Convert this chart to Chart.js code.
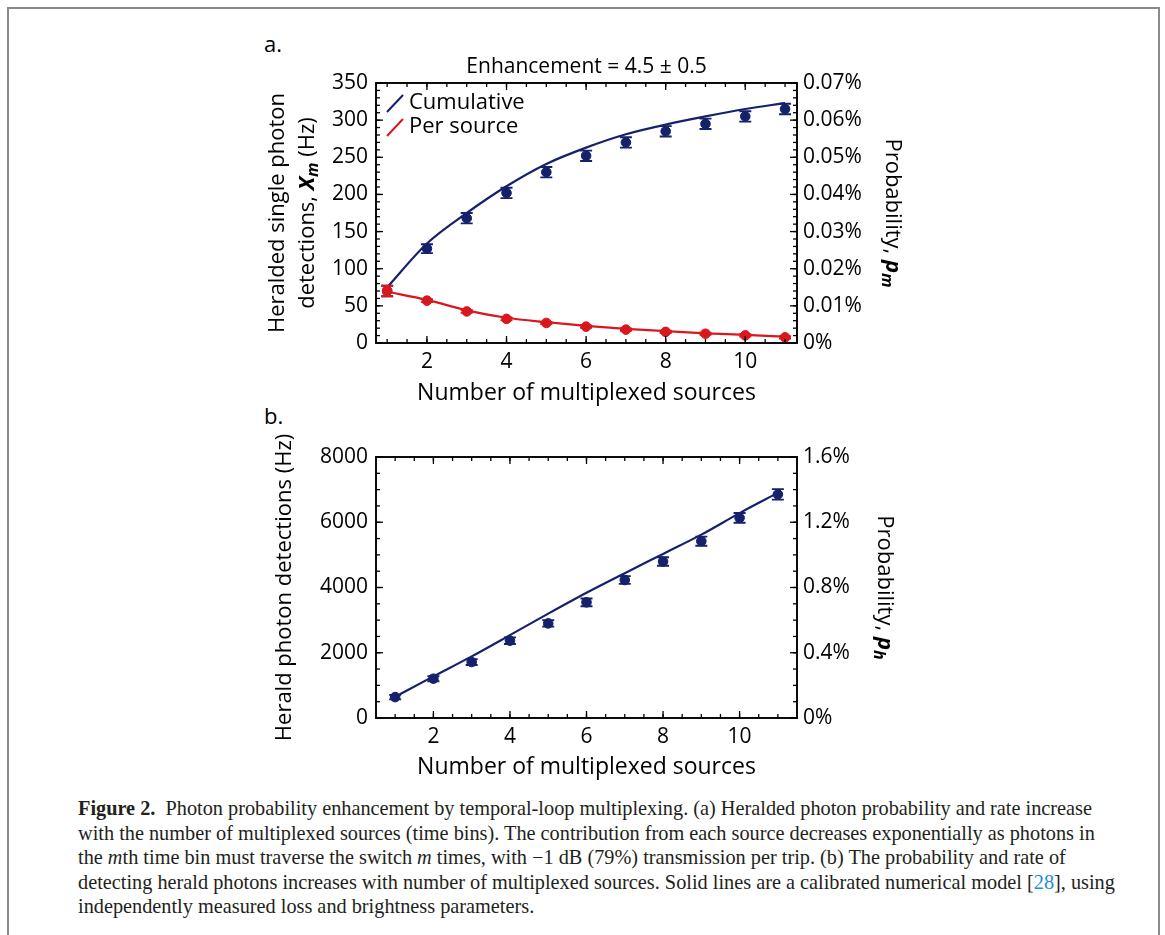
<!DOCTYPE html>
<html>
<head>
<meta charset="utf-8">
<script src="https://cdn.jsdelivr.net/npm/chart.js@4.4.0/dist/chart.umd.min.js"></script>
<style>
  body { margin: 0; background: #fff; width: 1165px; height: 935px; overflow: hidden; position: relative; }
  .frame { position: absolute; left: 7px; top: 7px; width: 1149px; height: 960px; border: 2px solid #8a8a8a; border-bottom: none; }
  canvas { position: absolute; }
  .tag { position: absolute; font: 22px 'Open Sans', sans-serif; color: #000; line-height: 26px; }
  .caption { position: absolute; left: 78px; top: 796px; font: 20.3px 'Liberation Serif', serif; line-height: 24.5px; color: #231f20; white-space: nowrap; }
  .caption a { color: #1e8fd6; text-decoration: none; }
</style>
</head>
<body>
<div class="frame"></div>
<div class="tag" style="left:264px;top:30px">a.</div>
<div class="tag" style="left:264px;top:402px">b.</div>
<canvas id="chartA" width="680" height="380" style="left:250px;top:40px"></canvas>
<canvas id="chartB" width="680" height="370" style="left:250px;top:420px"></canvas>
<div class="caption">
  <div><b>Figure 2.</b>&nbsp; Photon probability enhancement by temporal-loop multiplexing. (a) Heralded photon probability and rate increase</div>
  <div>with the number of multiplexed sources (time bins). The contribution from each source decreases exponentially as photons in</div>
  <div>the <i>m</i>th time bin must traverse the switch <i>m</i> times, with &minus;1 dB (79%) transmission per trip. (b) The probability and rate of</div>
  <div>detecting herald photons increases with number of multiplexed sources. Solid lines are a calibrated numerical model [<a>28</a>], using</div>
  <div>independently measured loss and brightness parameters.</div>
</div>
<script>
// number of multiplexed sources m
const sources = [1, 2, 3, 4, 5, 6, 7, 8, 9, 10, 11];
const xTickLabels = [2, 4, 6, 8, 10];

// panel a: heralded single photon detections (Hz)
const cumulativeData = [70, 127, 168, 202, 230, 252, 270, 285, 295, 305, 315];
const cumulativeErr = [7, 6, 7, 7, 7, 7, 7, 7, 7, 7, 7];
const cumulativeModel = [75, 134, 175, 211, 241, 263, 281, 294, 305, 315, 323];
const perSourceData = [70, 57, 42.5, 32.5, 27, 22, 18, 15, 12.5, 10.3, 7.6];
const perSourceErr = [7, 2, 2, 2, 1.5, 1.5, 1.5, 1.5, 1.5, 1.5, 1.5];
const perSourceModel = [69, 58, 44, 34, 28, 23, 19, 16, 13, 11, 8.5];
const rateTicksA = [0, 50, 100, 150, 200, 250, 300, 350];
const probTicksA = [0, 0.01, 0.02, 0.03, 0.04, 0.05, 0.06, 0.07];

// panel b: herald photon detections (Hz)
const heraldData = [640, 1205, 1716, 2370, 2900, 3545, 4230, 4795, 5420, 6135, 6855];
const heraldErr = [70, 80, 90, 100, 100, 120, 120, 130, 140, 150, 160];
const heraldModel = [650, 1275, 1888, 2540, 3200, 3840, 4440, 5030, 5620, 6280, 6900];
const rateTicksB = [0, 2000, 4000, 6000, 8000];
const probTicksB = [0, 0.4, 0.8, 1.2, 1.6];

const NAVY = '#15216b';
const RED = '#d8181e';
const INK = '#000';
const FONT = "'Open Sans', sans-serif";

const pts = (xs, ys) => xs.map((x, i) => ({ x: x, y: ys[i] }));
const range = (a, b, step) => { const out = []; for (let v = a; v <= b + 1e-9; v += step) out.push(+v.toFixed(4)); return out; };

// vertical error bars, drawn just before the points of their dataset
const errorBars = {
  id: 'errorBars',
  beforeDatasetDraw(chart, args) {
    const ds = chart.data.datasets[args.index];
    if (!ds.errors) return;
    const { ctx } = chart;
    const ys = chart.scales[ds.yAxisID || 'y'];
    ctx.save();
    ctx.strokeStyle = ds.borderColor;
    ctx.lineWidth = 1.9;
    args.meta.data.forEach((pt, i) => {
      const v = ds.data[i].y, e = ds.errors[i];
      const top = ys.getPixelForValue(v + e), bot = ys.getPixelForValue(v - e);
      ctx.beginPath();
      ctx.moveTo(pt.x, top); ctx.lineTo(pt.x, bot);
      ctx.moveTo(pt.x - 6, top); ctx.lineTo(pt.x + 6, top);
      ctx.moveTo(pt.x - 6, bot); ctx.lineTo(pt.x + 6, bot);
      ctx.stroke();
    });
    ctx.restore();
  }
};

// frame with inward ticks on all four sides
const innerTicks = {
  id: 'innerTicks',
  afterDraw(chart, args, opts) {
    const { ctx, chartArea: a, scales } = chart;
    ctx.save();
    ctx.strokeStyle = INK;
    ctx.lineWidth = 1.3;
    const mark = (scale, list, len, side) => list.forEach(v => {
      const p = scale.getPixelForValue(v);
      ctx.beginPath();
      if (side === 'x') {
        ctx.moveTo(p, a.bottom); ctx.lineTo(p, a.bottom - len);
        ctx.moveTo(p, a.top); ctx.lineTo(p, a.top + len);
      } else if (side === 'left') {
        ctx.moveTo(a.left, p); ctx.lineTo(a.left + len, p);
      } else {
        ctx.moveTo(a.right, p); ctx.lineTo(a.right - len, p);
      }
      ctx.stroke();
    });
    mark(scales.x, opts.xMinor, 4, 'x');
    mark(scales.x, opts.xMajor, 7, 'x');
    mark(scales.y, opts.yMinor, 4, 'left');
    mark(scales.y, opts.yMajor, 7, 'left');
    mark(scales.y1, opts.pMinor, 4, 'right');
    mark(scales.y1, opts.pMajor, 7, 'right');
    ctx.lineWidth = 1.9;
    ctx.strokeRect(a.left, a.top, a.right - a.left, a.bottom - a.top);
    ctx.restore();
  }
};

// text made of runs with their own fonts (for italic subscripts)
function richText(ctx, runs, x, y, rot) {
  ctx.save();
  ctx.translate(x, y);
  ctx.rotate(rot);
  ctx.textBaseline = 'middle';
  ctx.textAlign = 'left';
  ctx.fillStyle = INK;
  let total = 0;
  runs.forEach(r => { ctx.font = r.font; r.w = ctx.measureText(r.text).width; total += r.w; });
  let cx = -total / 2;
  runs.forEach(r => { ctx.font = r.font; ctx.fillText(r.text, cx, r.dy || 0); cx += r.w; });
  ctx.restore();
}

const reg = `22px ${FONT}`;
const bi = `italic bold 22px ${FONT}`;
const sub = `italic bold 16px ${FONT}`;

function makeScales(o) {
  return {
    x: {
      type: 'linear', min: o.xMin, max: o.xMax,
      grid: { display: false, drawTicks: false }, border: { display: false },
      afterBuildTicks: s => { s.ticks = xTickLabels.map(v => ({ value: v })); },
      ticks: { font: { family: FONT, size: 21 }, color: INK, padding: 6, maxRotation: 0, autoSkip: false, callback: v => String(v) },
      title: { display: true, text: 'Number of multiplexed sources', color: INK, font: { family: FONT, size: 23 }, padding: { top: 0, bottom: o.titlePad } },
      afterFit: s => { s.height = o.xHeight; }
    },
    y: {
      type: 'linear', position: 'left', min: 0, max: o.yMax,
      grid: { display: false, drawTicks: false }, border: { display: false },
      afterBuildTicks: s => { s.ticks = o.yTicks.map(v => ({ value: v })); },
      ticks: { font: { family: FONT, size: 21 }, color: INK, padding: 8, callback: v => String(v) },
      afterFit: s => { s.width = 126; }
    },
    y1: {
      type: 'linear', position: 'right', min: 0, max: o.pMax,
      grid: { display: false, drawTicks: false }, border: { display: false },
      afterBuildTicks: s => { s.ticks = o.pTicks.map(v => ({ value: v })); },
      ticks: { font: { family: FONT, size: 21 }, color: INK, padding: 6, callback: v => v === 0 ? '0%' : v.toFixed(o.pDigits) + '%' },
      afterFit: s => { s.width = 133; }
    }
  };
}

const panelA = {
  id: 'panelA',
  afterDraw(chart) {
    const { ctx, chartArea: a } = chart;
    const cy = (a.top + a.bottom) / 2;
    richText(ctx, [{ text: 'Enhancement = 4.5 \u00b1 0.5', font: `21px ${FONT}` }], (a.left + a.right) / 2, 27, 0);
    richText(ctx, [{ text: 'Heralded single photon', font: reg }], 28, cy, -Math.PI / 2);
    richText(ctx, [{ text: 'detections, ', font: reg }, { text: 'X', font: bi }, { text: 'm', font: sub, dy: 5 }, { text: ' (Hz)', font: reg }], 58, cy, -Math.PI / 2);
    richText(ctx, [{ text: 'Probability, ', font: reg }, { text: 'p', font: bi }, { text: 'm', font: sub, dy: 5 }], 642, cy, Math.PI / 2);
    // legend
    ctx.save();
    ctx.lineWidth = 2;
    [[NAVY, 'Cumulative'], [RED, 'Per source']].forEach(([c, t], i) => {
      const y0 = a.top + 29 + i * 24;
      ctx.strokeStyle = c;
      ctx.beginPath(); ctx.moveTo(a.left + 11, y0); ctx.lineTo(a.left + 27, y0 - 17); ctx.stroke();
      ctx.fillStyle = INK; ctx.font = reg; ctx.textBaseline = 'middle';
      ctx.fillText(t, a.left + 33, y0 - 9);
    });
    ctx.restore();
  }
};

const panelB = {
  id: 'panelB',
  afterDraw(chart) {
    const { ctx, chartArea: a } = chart;
    const cy = (a.top + a.bottom) / 2;
    richText(ctx, [{ text: 'Herald photon detections (Hz)', font: reg }], 35, cy, -Math.PI / 2);
    richText(ctx, [{ text: 'Probability, ', font: reg }, { text: 'p', font: bi }, { text: 'h', font: sub, dy: 5 }], 634, cy, Math.PI / 2);
  }
};

const common = {
  responsive: false,
  animation: false,
  events: [],
  plugins: { legend: { display: false }, tooltip: { enabled: false } }
};

new Chart(document.getElementById('chartA'), {
  type: 'scatter',
  data: {
    datasets: [
      { data: pts(sources, perSourceData), errors: perSourceErr, borderColor: RED, backgroundColor: RED, pointRadius: 4.8, showLine: false, order: 0 },
      { data: pts(sources, perSourceModel), borderColor: RED, borderWidth: 2.2, pointRadius: 0, showLine: true, cubicInterpolationMode: 'monotone', order: 1 },
      { data: pts(sources, cumulativeData), errors: cumulativeErr, borderColor: NAVY, backgroundColor: NAVY, pointRadius: 4.8, showLine: false, order: 2 },
      { data: pts(sources, cumulativeModel), borderColor: NAVY, borderWidth: 2.2, pointRadius: 0, showLine: true, cubicInterpolationMode: 'monotone', order: 3 }
    ]
  },
  options: Object.assign({}, common, {
    layout: { padding: { top: 43, left: 0, right: 0, bottom: 0 } },
    scales: makeScales({ xMin: 0.72, xMax: 11.3, yMax: 350, pMax: 0.07, yTicks: rateTicksA, pTicks: probTicksA, pDigits: 2, xHeight: 77, titlePad: 13 }),
    plugins: Object.assign({}, common.plugins, {
      innerTicks: { xMajor: xTickLabels, xMinor: range(1, 11, 0.5), yMajor: rateTicksA, yMinor: range(0, 350, 10), pMajor: probTicksA, pMinor: range(0, 0.07, 0.002) }
    })
  }),
  plugins: [errorBars, innerTicks, panelA]
});

new Chart(document.getElementById('chartB'), {
  type: 'scatter',
  data: {
    datasets: [
      { data: pts(sources, heraldData), errors: heraldErr, borderColor: NAVY, backgroundColor: NAVY, pointRadius: 4.8, showLine: false, order: 0 },
      { data: pts(sources, heraldModel), borderColor: NAVY, borderWidth: 2.2, pointRadius: 0, showLine: true, cubicInterpolationMode: 'monotone', order: 1 }
    ]
  },
  options: Object.assign({}, common, {
    layout: { padding: { top: 37, left: 0, right: 0, bottom: 0 } },
    scales: makeScales({ xMin: 0.5, xMax: 11.5, yMax: 8000, pMax: 1.6, yTicks: rateTicksB, pTicks: probTicksB, pDigits: 1, xHeight: 72, titlePad: 9 }),
    plugins: Object.assign({}, common.plugins, {
      innerTicks: { xMajor: xTickLabels, xMinor: range(1, 11, 0.5), yMajor: rateTicksB, yMinor: range(0, 8000, 500), pMajor: probTicksB, pMinor: range(0, 1.6, 0.1) }
    })
  }),
  plugins: [errorBars, innerTicks, panelB]
});
</script>
</body>
</html>
